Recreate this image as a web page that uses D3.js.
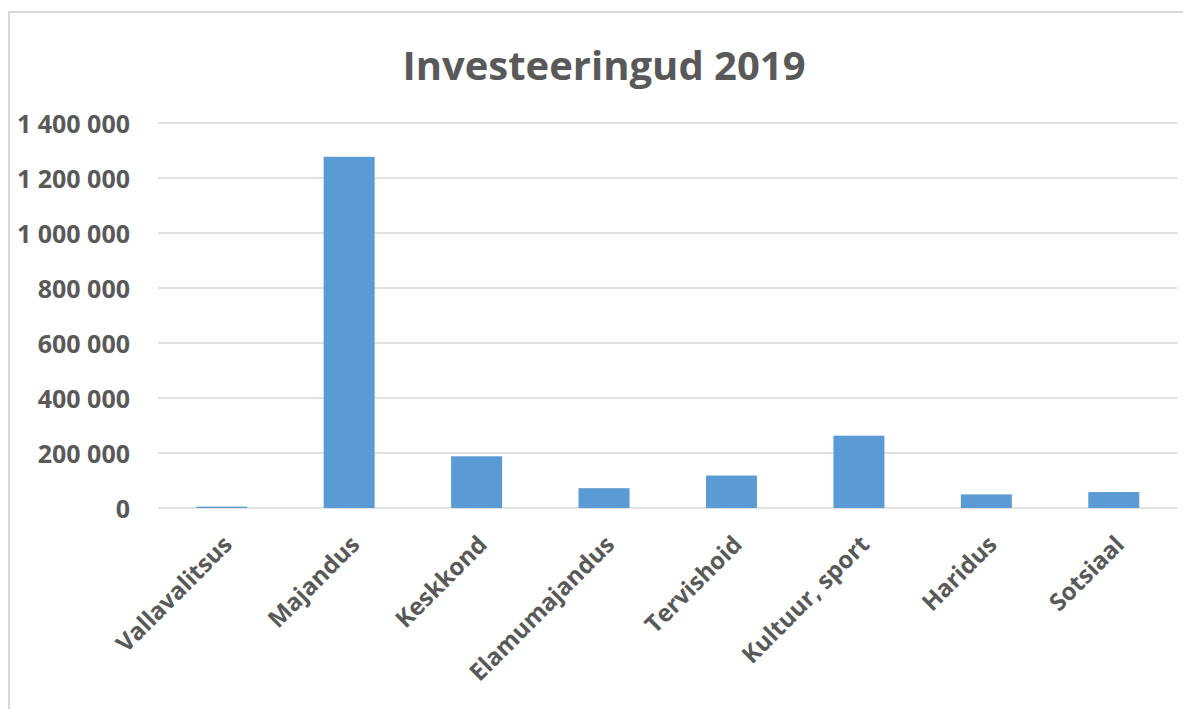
<!DOCTYPE html>
<html>
<head>
<meta charset="utf-8">
<script src="https://cdn.jsdelivr.net/npm/d3@7"></script>
<style>
  html, body { margin: 0; padding: 0; background: #fff; }
  svg { display: block; }
</style>
</head>
<body>
<div id="chart"></div>
<script>
"use strict";
var categories = ["Vallavalitsus", "Majandus", "Keskkond", "Elamumajandus", "Tervishoid", "Kultuur, sport", "Haridus", "Sotsiaal"];
var values = [5000, 1277000, 188000, 72000, 118000, 263000, 49500, 58000];
var yTicks = [0, 200000, 400000, 600000, 800000, 1000000, 1200000, 1400000];
var title = "Investeeringud 2019";

var width = 1183, height = 709;
var margin = { top: 123, right: 5.5, bottom: 201, left: 158 };
var textColor = "#595959";
var fontFamily = "'Open Sans', 'DejaVu Sans', sans-serif";

var svg = d3.select("#chart").append("svg")
    .attr("width", width)
    .attr("height", height);

// chart area frame (only top and left edges are visible in the crop)
svg.append("path")
    .attr("d", "M9,709 L9,12 L1183,12")
    .style("fill", "none")
    .style("stroke", "#d9d9d9")
    .style("stroke-width", 2);

var x = d3.scaleBand()
    .domain(categories)
    .range([margin.left, width - margin.right])
    .paddingInner(0.6)
    .paddingOuter(0.3);

var y = d3.scaleLinear()
    .domain([0, 1400000])
    .range([height - margin.bottom, margin.top]);

var fmt = function (d) { return d3.format(",")(d).replace(/,/g, " "); };

// gridlines
svg.append("g").classed("grid", true)
    .style("stroke", "#d9d9d9")
    .style("stroke-width", 1.5)
    .selectAll("line")
    .data(yTicks)
    .enter().append("line")
    .attr("x1", margin.left)
    .attr("x2", width - margin.right)
    .attr("y1", function (d) { return y(d); })
    .attr("y2", function (d) { return y(d); });

// y axis labels
var yAxis = d3.axisLeft(y).tickValues(yTicks).tickFormat(fmt).tickSize(0).tickPadding(0);
var yg = svg.append("g")
    .attr("transform", "translate(130,0)")
    .call(yAxis);
yg.select(".domain").remove();
yg.selectAll("text")
    .style("font-family", fontFamily)
    .style("font-weight", "bold")
    .style("font-size", "25px")
    .style("fill", textColor)
    .attr("dy", "0.36em");

// bars
svg.append("g").classed("bars", true)
    .style("fill", "#5b9bd5")
    .selectAll("rect")
    .data(values)
    .enter().append("rect")
    .attr("x", function (d, i) { return x(categories[i]); })
    .attr("width", x.bandwidth())
    .attr("y", function (d) { return y(d); })
    .attr("height", function (d) { return y(0) - y(d); });

// category labels
var xAxis = d3.axisBottom(x).tickSize(0).tickPadding(0);
var xg = svg.append("g")
    .attr("transform", "translate(0," + y(0) + ")")
    .call(xAxis);
xg.select(".domain").remove();
xg.selectAll("text")
    .style("font-family", fontFamily)
    .style("font-weight", "bold")
    .style("font-size", "24px")
    .style("fill", textColor)
    .style("text-anchor", "end")
    .attr("y", 0)
    .attr("dy", 0)
    .attr("transform", "translate(12,38) rotate(-45)");

// title
svg.append("text")
    .attr("x", 604)
    .attr("y", 80)
    .style("text-anchor", "middle")
    .style("font-family", fontFamily)
    .style("font-weight", "bold")
    .style("font-size", "40px")
    .style("fill", textColor)
    .text(title);
</script>
</body>
</html>
